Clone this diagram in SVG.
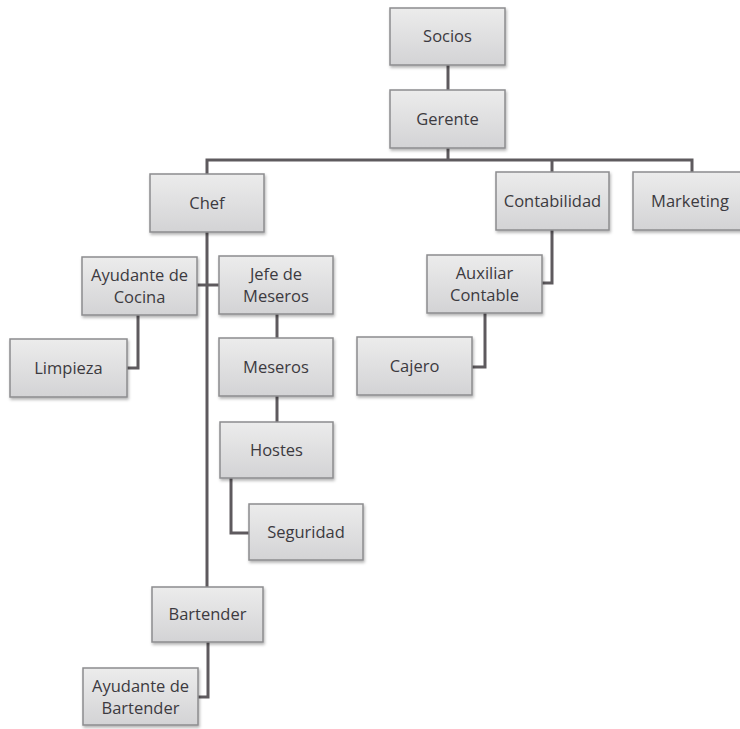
<svg xmlns="http://www.w3.org/2000/svg" width="740" height="729" viewBox="0 0 740 729">
<defs>
<linearGradient id="g" x1="0" y1="0" x2="0" y2="1">
<stop offset="0" stop-color="#ececec"/>
<stop offset="1" stop-color="#d3d3d5"/>
</linearGradient>
<filter id="sh" x="-10%" y="-10%" width="130%" height="140%">
<feDropShadow dx="1" dy="2" stdDeviation="1.5" flood-color="#000" flood-opacity="0.3"/>
</filter>
</defs>
<style>
.box{fill:url(#g);stroke:#8c8c8e;stroke-width:1.5;filter:url(#sh)}
.t{font-family:"Open Sans","Noto Sans",sans-serif;font-size:16.5px;fill:#3c3a40;text-anchor:middle}
.c{fill:none;stroke:#5e5a5e;stroke-width:3}
</style>
<rect width="740" height="729" fill="#fff"/>
<g id="connectors">
<path class="c" d="M448,65V90"/>
<path class="c" d="M448,148V160"/>
<path class="c" d="M207,174V160H692V172"/>
<path class="c" d="M552,160V172"/>
<path class="c" d="M207,232V587"/>
<path class="c" d="M197,285H219"/>
<path class="c" d="M138,315V368H127"/>
<path class="c" d="M277,314V338"/>
<path class="c" d="M277,396V422"/>
<path class="c" d="M231,478V533H249"/>
<path class="c" d="M208,642V697H198"/>
<path class="c" d="M552,230V283H542"/>
<path class="c" d="M485,313V367H472"/>
</g>
<g id="socios"><rect class="box" x="390" y="8" width="115" height="57"/><text class="t" x="447.5" y="42">Socios</text></g>
<g id="gerente"><rect class="box" x="390" y="90" width="115" height="58"/><text class="t" x="447.5" y="125">Gerente</text></g>
<g id="chef"><rect class="box" x="150" y="174" width="114" height="58"/><text class="t" x="207" y="209">Chef</text></g>
<g id="contabilidad"><rect class="box" x="496" y="172" width="113" height="58"/><text class="t" x="552.5" y="207">Contabilidad</text></g>
<g id="marketing"><rect class="box" x="633" y="172" width="115" height="58"/><text class="t" x="690" y="207">Marketing</text></g>
<g id="ayudante-cocina"><rect class="box" x="82" y="257" width="115" height="58"/><text class="t" x="139.5" y="281">Ayudante de</text><text class="t" x="139.5" y="303">Cocina</text></g>
<g id="jefe-meseros"><rect class="box" x="219" y="256" width="114" height="58"/><text class="t" x="276" y="280">Jefe de</text><text class="t" x="276" y="302">Meseros</text></g>
<g id="limpieza"><rect class="box" x="10" y="339" width="117" height="58"/><text class="t" x="68.5" y="374">Limpieza</text></g>
<g id="meseros"><rect class="box" x="219" y="338" width="114" height="58"/><text class="t" x="276" y="373">Meseros</text></g>
<g id="auxiliar-contable"><rect class="box" x="427" y="255" width="115" height="58"/><text class="t" x="484.5" y="279">Auxiliar</text><text class="t" x="484.5" y="301">Contable</text></g>
<g id="cajero"><rect class="box" x="357" y="337" width="115" height="58"/><text class="t" x="414.5" y="372">Cajero</text></g>
<g id="hostes"><rect class="box" x="220" y="422" width="113" height="56"/><text class="t" x="276.5" y="456">Hostes</text></g>
<g id="seguridad"><rect class="box" x="249" y="504" width="114" height="56"/><text class="t" x="306" y="538">Seguridad</text></g>
<g id="bartender"><rect class="box" x="152" y="587" width="111" height="55"/><text class="t" x="207.5" y="620">Bartender</text></g>
<g id="ayudante-bartender"><rect class="box" x="83" y="668" width="115" height="57"/><text class="t" x="140.5" y="692">Ayudante de</text><text class="t" x="140.5" y="714">Bartender</text></g>
</svg>
